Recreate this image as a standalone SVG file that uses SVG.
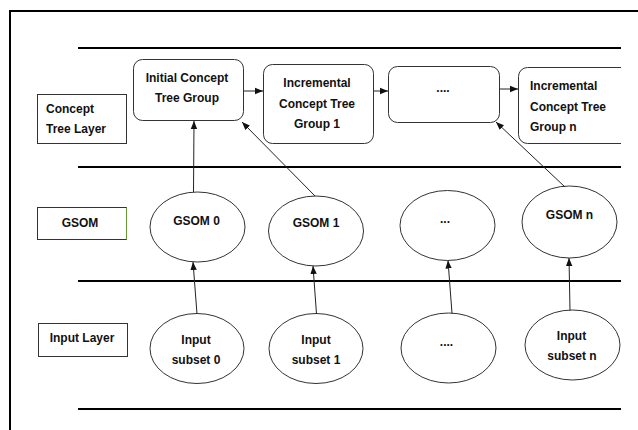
<svg xmlns="http://www.w3.org/2000/svg" width="638" height="430" viewBox="0 0 638 430">
  <style>
    .frame { stroke: #000; stroke-width: 2; fill: none; }
    .rule { stroke: #000; stroke-width: 2; }
    .label { fill: #fff; stroke: #333; stroke-width: 1; }
    .tree { fill: #fff; stroke: #333; stroke-width: 1; }
    .som { fill: #fff; stroke: #333; stroke-width: 1; }
    .edge { stroke: #222; stroke-width: 1; fill: none; marker-end: url(#tip); }
    text { font-family: "Liberation Sans", Arial, sans-serif; font-weight: bold; font-size: 12px; fill: #111; }
    .c { text-anchor: middle; }
  </style>
  <defs>
    <marker id="tip" markerUnits="userSpaceOnUse" markerWidth="8" markerHeight="8" viewBox="0 0 8 8" refX="8" refY="4" orient="auto">
      <path d="M0,0.8 L8,4 L0,7.2 Z" fill="#111"/>
    </marker>
  </defs>
  <rect width="638" height="430" fill="#fff"/>

  <!-- page frame -->
  <path class="frame" d="M10,430 V11 H638"/>

  <!-- layer separators -->
  <line class="rule" x1="78" y1="48" x2="621" y2="48"/>
  <line class="rule" x1="78" y1="167" x2="621" y2="167"/>
  <line class="rule" x1="78" y1="281" x2="621" y2="281"/>
  <line class="rule" x1="78" y1="409" x2="621" y2="409"/>

  <!-- layer labels -->
  <g id="label-concept">
    <rect class="label" x="37.5" y="94.5" width="89" height="49"/>
    <text x="46" y="113">Concept</text>
    <text x="46" y="133">Tree Layer</text>
  </g>
  <g id="label-gsom">
    <rect class="label" x="37.5" y="207.5" width="89" height="32"/>
    <line x1="126.5" y1="207.5" x2="126.5" y2="239.5" stroke="#6a9a3a" stroke-width="1"/>
    <text class="c" x="80" y="227">GSOM</text>
  </g>
  <g id="label-input">
    <rect class="label" x="38.5" y="323.5" width="89" height="33"/>
    <text class="c" x="82" y="342">Input Layer</text>
  </g>

  <!-- concept tree layer -->
  <g id="tree-initial">
    <rect class="tree" x="133.5" y="59.5" width="110" height="61" rx="9"/>
    <text class="c" x="187" y="82">Initial Concept</text>
    <text class="c" x="187" y="102">Tree Group</text>
  </g>
  <g id="tree-inc1">
    <rect class="tree" x="263.5" y="64.5" width="110" height="79" rx="9"/>
    <text class="c" x="317" y="87">Incremental</text>
    <text class="c" x="317" y="108">Concept Tree</text>
    <text class="c" x="317" y="128">Group 1</text>
  </g>
  <g id="tree-more">
    <rect class="tree" x="388.5" y="66.5" width="111" height="56" rx="9"/>
    <text class="c" x="443" y="92">....</text>
  </g>
  <g id="tree-incn">
    <path class="tree" d="M621,67.5 H527.5 A9,9 0 0 0 518.5,76.5 V134.5 A9,9 0 0 0 527.5,143.5 H621"/>
    <text x="530" y="90">Incremental</text>
    <text x="530" y="111">Concept Tree</text>
    <text x="530" y="131">Group n</text>
  </g>

  <!-- GSOM layer -->
  <g id="gsom-0">
    <ellipse class="som" cx="197.5" cy="227" rx="47.5" ry="35"/>
    <text class="c" x="196.5" y="225">GSOM 0</text>
  </g>
  <g id="gsom-1">
    <ellipse class="som" cx="316" cy="231" rx="47.5" ry="35"/>
    <text class="c" x="316" y="227">GSOM 1</text>
  </g>
  <g id="gsom-more">
    <ellipse class="som" cx="447.5" cy="225.5" rx="47.5" ry="35"/>
    <text class="c" x="445" y="223">...</text>
  </g>
  <g id="gsom-n">
    <ellipse class="som" cx="569.5" cy="222" rx="47.5" ry="36"/>
    <text class="c" x="569.5" y="219">GSOM n</text>
  </g>

  <!-- input layer -->
  <g id="input-0">
    <ellipse class="som" cx="197" cy="348.5" rx="47" ry="35"/>
    <text class="c" x="196" y="344">Input</text>
    <text class="c" x="196" y="364">subset 0</text>
  </g>
  <g id="input-1">
    <ellipse class="som" cx="316" cy="348.5" rx="47" ry="35"/>
    <text class="c" x="316" y="344">Input</text>
    <text class="c" x="316" y="364">subset 1</text>
  </g>
  <g id="input-more">
    <ellipse class="som" cx="448.5" cy="348" rx="47.5" ry="35"/>
    <text class="c" x="446.5" y="346">....</text>
  </g>
  <g id="input-n">
    <ellipse class="som" cx="572.5" cy="345" rx="47.5" ry="35"/>
    <text class="c" x="571.5" y="340">Input</text>
    <text class="c" x="572" y="360">subset n</text>
  </g>

  <!-- connectors -->
  <g id="connectors">
    <line class="edge" x1="243.5" y1="91" x2="263" y2="91"/>
    <line class="edge" x1="373.5" y1="91" x2="388" y2="91"/>
    <line class="edge" x1="499.5" y1="89" x2="518" y2="89"/>

    <line class="edge" x1="193.5" y1="192" x2="194" y2="121"/>
    <line class="edge" x1="315" y1="196" x2="242" y2="122"/>
    <line class="edge" x1="565" y1="187" x2="496" y2="122"/>

    <line class="edge" x1="197" y1="314" x2="193" y2="262"/>
    <line class="edge" x1="316.5" y1="314" x2="313" y2="266"/>
    <line class="edge" x1="452" y1="313.5" x2="448" y2="260.5"/>
    <line class="edge" x1="570" y1="310.5" x2="569" y2="258"/>
  </g>
</svg>
